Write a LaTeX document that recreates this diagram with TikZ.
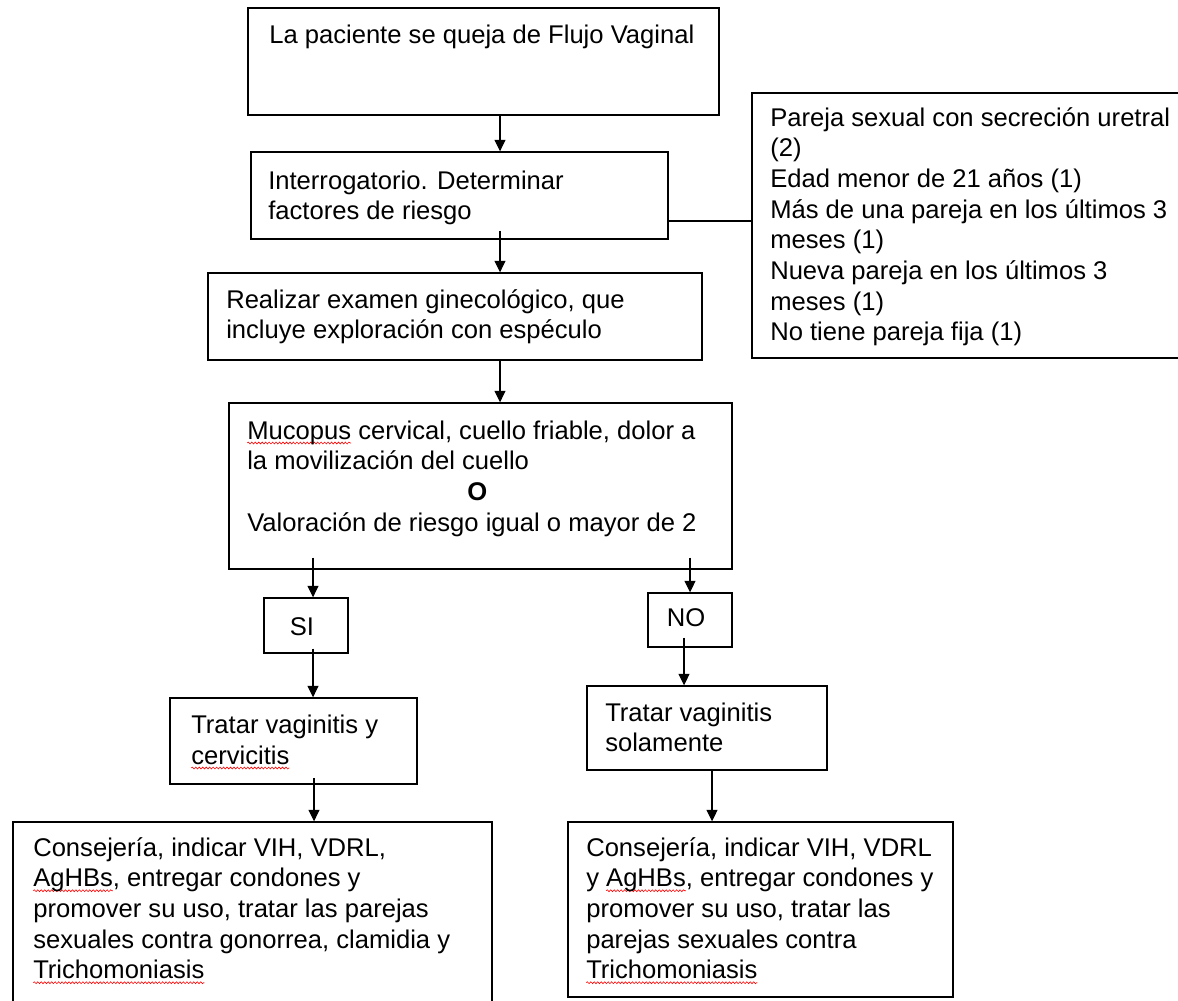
\documentclass[tikz,border=0pt]{standalone}
\usepackage{fontspec}
\setmainfont{Liberation Sans}
\usetikzlibrary{fit,arrows.meta,decorations.pathmorphing}
\newsavebox\spbox
\tikzset{spellline/.style={draw=red, line width=0.45pt, decorate, decoration={snake, amplitude=0.7pt, segment length=2.6pt}}}
\newcommand\spellmark[1]{\sbox\spbox{#1}\rlap{\raisebox{-3pt}[0pt][0pt]{\tikz[overlay,baseline=0pt]\draw[spellline] (0pt,0pt) -- (\wd\spbox,0pt);}}\usebox\spbox}
\begin{document}
\begin{tikzpicture}[x=0.75pt,y=-0.75pt,
  box/.style={draw=black, line width=1.1pt, inner sep=0pt},
  txt/.style={anchor=base west, inner sep=0pt, align=left, font=\fontsize{19.2pt}{23pt}\selectfont},
  ctxt/.style={anchor=center, inner sep=0pt, font=\fontsize{19.2pt}{23pt}\selectfont},
  conn/.style={draw=black, line width=0.8pt},
  arr/.style={conn, -{Triangle[width=8.25pt,length=8.5pt]}}
]
\clip (0,0) rectangle (1178,1000);
\fill[white] (0,0) rectangle (1178,1000);
% boxes
\node[box, fit={(248,8) (719,115)}] (b1) {};
\node[box, fit={(251,152) (668,239)}] (b2) {};
\node[box, fit={(752,93) (1190,358)}] (br) {};
\node[box, fit={(208,273) (702,360)}] (b3) {};
\node[box, fit={(229,403) (732,569)}] (b4) {};
\node[box, fit={(264,598) (348,653)}] (si) {};
\node[box, fit={(648,593) (732,647)}] (no) {};
\node[box, fit={(170,698) (417,784)}] (b5) {};
\node[box, fit={(587,686) (827,770)}] (b6) {};
\node[box, fit={(13,822) (492,1010)}] (b7) {};
\node[box, fit={(568,822) (953,997)}] (b8) {};
% texts (anchor = baseline of the last line)
\node[txt] (t1) at (269,43) {La paciente se queja de Flujo Vaginal};
\node[txt] (t2) at (268,219.7) {Interrogatorio. Determinar\\factores de riesgo};
\node[txt] (tr) at (770,340.7) {Pareja sexual con secreción uretral\\(2)\\Edad menor de 21 años (1)\\Más de una pareja en los últimos 3\\meses (1)\\Nueva pareja en los últimos 3\\meses (1)\\No tiene pareja fija (1)};
\node[txt] (t3) at (226,338.7) {Realizar examen ginecológico, que\\incluye exploración con espéculo};
\node[txt] (t4) at (247,531) {\spellmark{Mucopus} cervical, cuello friable, dolor a\\la movilización del cuello\\\makebox[345pt][c]{\bfseries O}\\Valoración de riesgo igual o mayor de 2};
\node[ctxt] (tsi) at (302,627) {SI};
\node[ctxt] (tno) at (686,618) {NO};
\node[txt] (t5) at (191,764) {Tratar vaginitis y\\\spellmark{cervicitis}};
\node[txt] (t6) at (605,751.7) {Tratar vaginitis\\solamente};
\node[txt] (t7) at (33,978.7) {Consejería, indicar VIH, VDRL,\\\spellmark{AgHBs}, entregar condones y\\promover su uso, tratar las parejas\\sexuales contra gonorrea, clamidia y\\\spellmark{Trichomoniasis}};
\node[txt] (t8) at (586,978.7) {Consejería, indicar VIH, VDRL\\y \spellmark{AgHBs}, entregar condones y\\promover su uso, tratar las\\parejas sexuales contra\\\spellmark{Trichomoniasis}};
% connector coordinates
\coordinate (xmain) at (500,0);
\coordinate (xsi) at (313,0);
\coordinate (xno) at (690,0);
\coordinate (xno2) at (684,0);
\coordinate (xb5) at (314,0);
\coordinate (xb6) at (712,0);
\coordinate (yline) at (0,221);
% connectors
\draw[arr] (b1.south -| xmain) -- (b2.north -| xmain);
\draw[conn] (b2.east |- yline) -- (br.west |- yline);
\draw[arr, shorten <=-6.75pt] (b2.south -| xmain) -- (b3.north -| xmain);
\draw[arr] (b3.south -| xmain) -- (b4.north -| xmain);
\draw[arr, shorten <=-9pt] (b4.south -| xsi) -- (si.north -| xsi);
\draw[arr, shorten <=-9pt] (b4.south -| xno) -- (no.north -| xno);
\draw[arr, shorten <=-3.75pt] (si.south -| xsi) -- (b5.north -| xsi);
\draw[arr, shorten <=-7.5pt] (no.south -| xno2) -- (b6.north -| xno2);
\draw[arr, shorten <=-5pt] (b5.south -| xb5) -- (b7.north -| xb5);
\draw[arr] (b6.south -| xb6) -- (b8.north -| xb6);
\end{tikzpicture}
\end{document}
